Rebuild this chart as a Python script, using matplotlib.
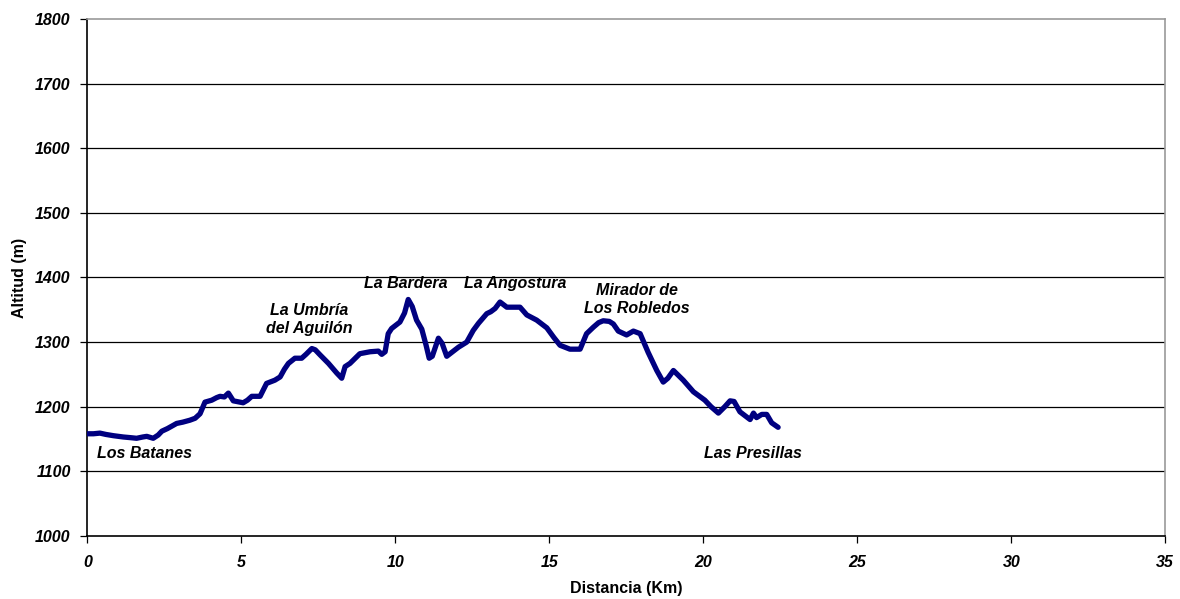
import matplotlib
matplotlib.use("Agg")
import matplotlib.pyplot as plt

# Profile data: distance (km) and altitude (m)
distancia = [0.0, 0.2, 0.41, 0.6, 0.85, 1.17, 1.4, 1.6, 1.8, 1.93, 2.14, 2.3, 2.42, 2.6, 2.9,
             3.1, 3.33, 3.5, 3.66, 3.82, 4.04, 4.2, 4.31, 4.45, 4.58, 4.74, 5.06, 5.2, 5.34,
             5.61, 5.82, 6.09, 6.26, 6.4, 6.53, 6.74, 6.96, 7.1, 7.29, 7.4, 7.56, 7.83, 8.1,
             8.26, 8.37, 8.53, 8.7, 8.85, 9.18, 9.45, 9.56, 9.67, 9.77, 9.88, 10.15, 10.3,
             10.42, 10.55, 10.69, 10.86, 11.0, 11.1, 11.2, 11.4, 11.52, 11.67, 12.05, 12.32,
             12.53, 12.7, 12.97, 13.1, 13.24, 13.4, 13.62, 14.05, 14.27, 14.59, 14.92, 15.15,
             15.35, 15.67, 16.0, 16.21, 16.43, 16.6, 16.75, 16.95, 17.08, 17.24, 17.51, 17.73,
             17.95, 18.21, 18.49, 18.7, 18.85, 19.03, 19.35, 19.68, 20.05, 20.25, 20.49,
             20.7, 20.87, 21.0, 21.19, 21.52, 21.63, 21.73, 21.9, 22.06, 22.22, 22.43]
altitud = [1158, 1158, 1159, 1157, 1155, 1153, 1152, 1151, 1153, 1154, 1151, 1156, 1162, 1166,
           1174, 1176, 1179, 1182, 1189, 1207, 1210, 1214, 1216, 1215, 1221, 1209, 1206,
           1210, 1216, 1216, 1236, 1241, 1246, 1258, 1267, 1275, 1275, 1281, 1290, 1288,
           1280, 1267, 1252, 1244, 1262, 1267, 1275, 1282, 1285, 1286, 1281, 1285, 1313,
           1321, 1331, 1345, 1366, 1355, 1334, 1320, 1295, 1275, 1278, 1306, 1298, 1278,
           1292, 1300, 1318, 1329, 1344, 1347, 1352, 1362, 1354, 1354, 1342, 1334, 1322,
           1307, 1295, 1289, 1289, 1313, 1323, 1330, 1333, 1332, 1328, 1317, 1311, 1317,
           1313, 1284, 1256, 1238, 1244, 1256, 1241, 1223, 1210, 1200, 1190, 1200, 1209,
           1208, 1192, 1180, 1190, 1183, 1188, 1188, 1175, 1168]

lugares = ["Los Batanes", "La Umbría\ndel Aguilón", "La Bardera", "La Angostura",
           "Mirador de\nLos Robledos", "Las Presillas"]
lugar_x = [1.87, 7.2, 10.35, 13.9, 17.85, 21.6]
lugar_y = [1128, 1335, 1391, 1391, 1366, 1128]

x_ticks = [0, 5, 10, 15, 20, 25, 30, 35]
y_ticks = [1000, 1100, 1200, 1300, 1400, 1500, 1600, 1700, 1800]

plt.rcParams['font.family'] = ['Liberation Sans', 'DejaVu Sans']

fig = plt.figure(figsize=(11.8, 5.99), dpi=100)
ax = fig.add_axes([0.074, 0.1055, 0.9135, 0.8625])

for yv in y_ticks[1:-1]:
    ax.axhline(yv, color='black', lw=0.9, zorder=1)

ax.plot(distancia, altitud, color='#000080', lw=3.8, solid_joinstyle='round',
        solid_capstyle='round', zorder=3)

fs = 11.5
for t, xv, yv in zip(lugares, lugar_x, lugar_y):
    ax.text(xv, yv, t, ha='center', va='center', fontsize=fs, fontweight='bold',
            fontstyle='italic', linespacing=1.2, zorder=4)

ax.set_xlim(0, 35)
ax.set_ylim(1000, 1800)
ax.set_xticks(x_ticks)
ax.set_yticks(y_ticks)
ax.set_xticklabels([str(v) for v in x_ticks], fontsize=fs, fontweight='bold', fontstyle='italic')
ax.set_yticklabels([str(v) for v in y_ticks], fontsize=fs, fontweight='bold', fontstyle='italic')
ax.tick_params(axis='both', direction='out', length=5, width=0.9, color='black')
ax.tick_params(axis='x', pad=9)
ax.tick_params(axis='y', pad=7)

ax.spines['left'].set_color('black')
ax.spines['bottom'].set_color('black')
ax.spines['top'].set_color('#999999')
ax.spines['right'].set_color('#999999')
for s in ax.spines.values():
    s.set_linewidth(1.2)

ax.set_xlabel('Distancia (Km)', fontsize=fs, fontweight='bold', labelpad=8)
ax.set_ylabel('Altitud (m)', fontsize=fs, fontweight='bold', labelpad=6)

fig.savefig('out.png', dpi=100)
